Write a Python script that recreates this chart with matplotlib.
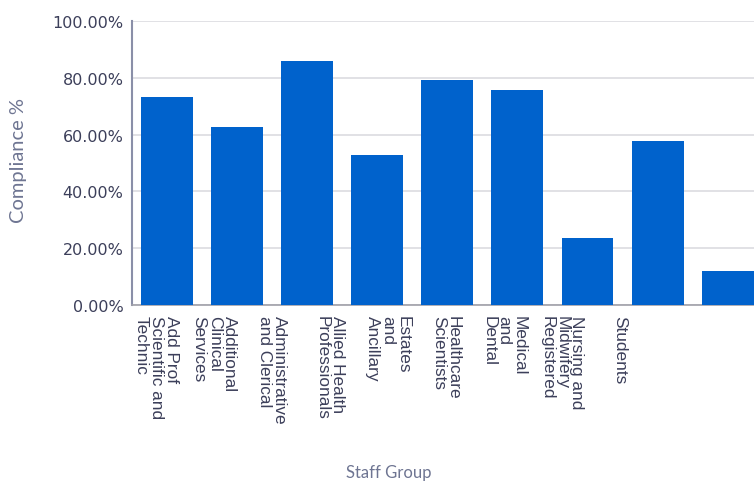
import numpy as np
import matplotlib
matplotlib.use("Agg")
import matplotlib.pyplot as plt
from matplotlib.ticker import PercentFormatter

# --- data ---
staff_groups = [
    "Add Prof\nScientific and\nTechnic",
    "Additional\nClinical\nServices",
    "Administrative\nand Clerical",
    "Allied Health\nProfessionals",
    "Estates\nand\nAncillary",
    "Healthcare\nScientists",
    "Medical\nand\nDental",
    "Nursing and\nMidwifery\nRegistered",
    "Students",
]
compliance = [73.1, 62.6, 85.7, 52.9, 79.1, 75.6, 23.5, 57.7, 12.1]
y_ticks = [0, 20, 40, 60, 80, 100]

bar_color = "#0062CC"
tick_color = "#3C3F5A"
title_color = "#6E7592"

fig = plt.figure(figsize=(7.54, 4.85), dpi=100)
# axes run a little past the right edge, so the last bar is cut off like the original
ax = fig.add_axes([0.1747, 0.369, 0.837, 0.586])

x = np.arange(len(compliance))
ax.bar(x, compliance, width=0.74, color=bar_color, zorder=3)

ax.set_xlim(-0.5, len(compliance) - 0.5)
ax.set_ylim(0, 100)
ax.set_yticks(y_ticks)
ax.yaxis.set_major_formatter(PercentFormatter(decimals=2))
ax.grid(axis="y", color="#DEDEE3", linewidth=1.3, zorder=0)

# labels sit on their own, slightly narrower spacing than the bars
label_x = -0.15 + 0.826 * x
ax.set_xticks(label_x)
ax.set_xticklabels(staff_groups, rotation=270, ha="center", va="top",
                   multialignment="left", linespacing=1.0,
                   fontsize=12.4, family="Liberation Sans", color=tick_color)
ax.tick_params(axis="x", length=0, pad=7)
ax.tick_params(axis="y", length=0, pad=6, labelsize=11.5, labelcolor=tick_color)

for side in ["top", "right"]:
    ax.spines[side].set_visible(False)
ax.spines["left"].set_color("#8A8FA8")
ax.spines["left"].set_linewidth(1.5)
ax.spines["bottom"].set_color("#A0A0A8")
ax.spines["bottom"].set_linewidth(1.2)

fig.text(0.025, 0.67, "Compliance %", rotation=90, ha="center", va="center",
         fontsize=14.5, family="Lato", color=title_color)
fig.text(0.516, 0.025, "Staff Group", ha="center", va="center",
         fontsize=12, family="Lato", color=title_color)

fig.savefig("out.png", dpi=100)
